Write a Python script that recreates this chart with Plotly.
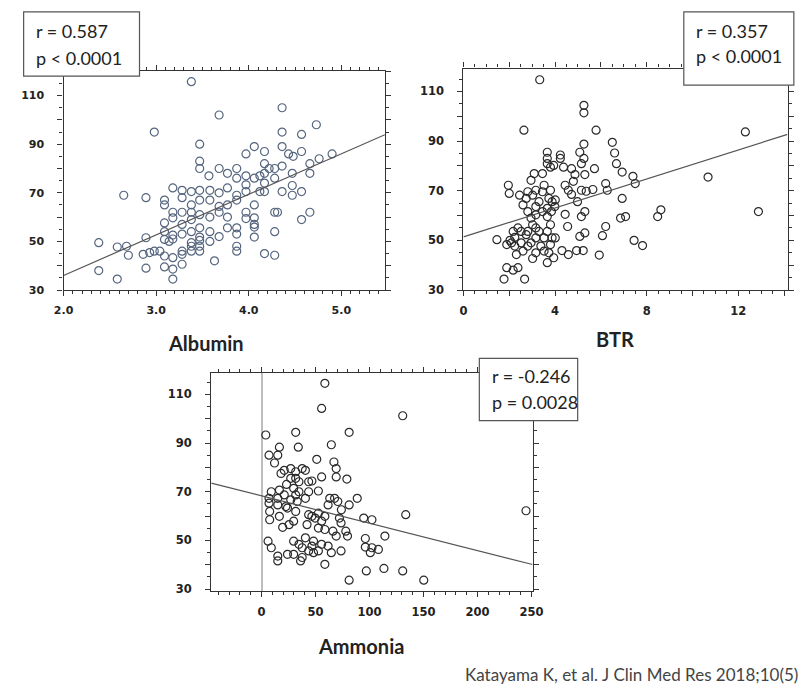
import plotly.graph_objects as go

W, H = 799, 689

# ---------------- Data ----------------
albumin_x = [3.38, 4.36, 3.68, 2.98, 4.36, 4.57, 4.73, 3.47, 3.97, 4.06,
             4.17, 4.36, 4.43, 4.48, 4.57, 4.90, 4.76, 4.66, 3.47, 3.47,
             3.68, 3.87, 4.17, 4.28, 4.36, 3.57, 3.77, 3.87, 3.97, 4.06,
             4.12, 4.17, 4.22, 4.28, 4.47, 4.66, 2.65, 2.89, 3.09, 3.18,
             3.28, 3.38, 3.47, 3.58, 3.68, 3.77, 3.87, 3.97, 4.12, 4.36,
             4.47, 4.57, 3.09, 3.28, 3.38, 3.47, 3.58, 3.68, 3.77, 3.87,
             4.06, 4.17, 3.18, 3.28, 3.38, 3.47, 3.58, 3.68, 3.77, 3.97,
             4.06, 4.28, 4.31, 4.66, 4.57, 3.09, 3.18, 3.38, 3.28, 3.47,
             3.77, 3.87, 3.97, 4.06, 4.06, 4.28, 3.09, 3.18, 3.28, 3.38,
             3.47, 3.58, 3.68, 3.87, 4.06, 2.89, 3.09, 3.14, 3.18, 3.38,
             3.47, 3.58, 2.38, 2.58, 2.68, 2.70, 2.86, 2.93, 2.98, 3.04,
             3.09, 3.18, 3.28, 3.38, 3.38, 3.47, 3.47, 3.87, 3.87, 4.17,
             4.28, 3.63, 3.09, 3.18, 3.28, 2.89, 2.38, 2.58, 3.18, 3.28,
             3.97, 4.17, 4.47]
albumin_y = [115.7, 105, 102, 95, 95, 94, 98, 90, 86, 89,
             87, 89, 86, 85, 87, 86, 84, 82, 83, 80,
             80, 80, 82, 80, 81, 77, 78, 76, 77, 76,
             77, 78, 80, 76, 78, 78, 69, 68, 67, 72,
             71, 70.5, 71, 71, 70, 72, 69, 70.5, 70.5, 70.5,
             69, 70.5, 65, 68, 65, 67, 67, 64.4, 65, 67,
             65, 70.5, 62, 62, 62, 61, 60, 62, 60, 62,
             59.7, 62, 62, 62, 59, 57.6, 59.7, 59, 57, 55.6,
             55.6, 55.6, 59.4, 57, 55.9, 54, 54, 52.6, 53, 54,
             51.8, 54, 52, 53, 51.8, 51.5, 50.8, 50, 51, 49.5,
             50.4, 50, 49.5, 47.7, 48, 44.3, 44.7, 45.4, 46, 46,
             44, 43.3, 44.7, 48, 46, 48, 46, 48, 46, 45,
             44.3, 42, 39.5, 38.6, 40.6, 39, 38, 34.5, 34.5, 46,
             73.3, 74, 73]

btr_x = [3.33, 5.26, 5.26, 2.64, 5.79, 12.31, 5.26, 6.50, 6.60, 3.66,
         3.66, 4.23, 4.23, 5.08, 5.26, 6.68, 3.66, 3.80, 3.94, 4.37,
         4.72, 5.72, 5.15, 3.09, 3.45, 4.87, 5.30, 6.93, 7.40, 7.50,
         10.68, 2.95, 4.80, 4.44, 4.58, 4.72, 1.96, 2.00, 2.45, 2.74,
         3.02, 3.45, 3.80, 3.30, 3.87, 4.01, 5.15, 5.36, 5.65, 6.21,
         6.28, 4.98, 6.93, 6.86, 7.08, 8.48, 8.62, 12.88, 5.30, 5.15,
         6.21, 6.07, 4.55, 4.44, 5.30, 5.08, 7.45, 7.82, 4.30, 4.58,
         4.94, 5.23, 5.93, 3.73, 3.94, 3.66, 1.46, 1.89, 2.03, 2.24,
         2.24, 2.31, 1.89, 2.17, 2.38, 1.77, 2.67, 2.81, 2.95, 3.16,
         3.02, 2.81, 3.16, 3.38, 2.95, 3.52, 3.02, 2.60, 2.52, 2.60,
         3.16, 3.66, 3.80, 3.66, 3.52, 3.87, 3.80, 4.01, 2.81, 3.16,
         3.52, 3.73, 3.99, 3.16, 3.45, 3.84, 3.66, 2.74, 3.30, 2.38,
         2.17, 2.10, 2.52, 2.81, 3.16]
btr_y = [114.7, 104.4, 101.4, 94.4, 94.4, 93.7, 88.8, 89.5, 85.2, 85.5,
         83, 84.4, 83, 85.5, 83, 80.9, 80.9, 79.5, 80.2, 79.5,
         78.9, 78.9, 80.9, 76.9, 76.9, 76.5, 76.5, 77.5, 75.8, 72.9,
         75.5, 74.2, 73.8, 72.2, 70.2, 68.5, 72.2, 68.9, 68.2, 66.9,
         68.2, 69.6, 70.2, 65.6, 65.6, 66.3, 70.2, 69.8, 70.5, 72.9,
         70.2, 65.6, 66.9, 59, 59.6, 59.6, 62.3, 61.6, 61.6, 59.6,
         55.6, 51.9, 55.6, 60.5, 53, 51.6, 50, 47.9, 45.9, 44.3,
         45.9, 45.9, 44.1, 45, 43, 41, 50.3, 48.3, 50, 51.2,
         47.7, 44.3, 39, 38, 39, 34.4, 34.4, 61.6, 59, 60.3,
         56.3, 53.6, 51, 47.7, 49, 45.7, 42.7, 45.7, 53.6, 64.3,
         55, 59.6, 56.3, 53.6, 51, 51, 48.3, 51, 69.6, 70.2,
         72.2, 66.9, 63.6, 63.6, 61.6, 61.6, 62.9, 52.3, 53.6, 55,
         53.6, 49, 49, 47.7, 45]

ammonia_x = [58.6, 55.6, 130.7, 3.9, 31.6, 81.1, 34.0, 64.6, 16.5, 15.0,
             6.9, 12.0, 51.1, 67.0, 69.1, 69.1, 79.0, 55.6, 46.6, 27.0,
             31.6, 37.6, 40.6, 21.0, 18.0, 27.0, 31.6, 34.6, 23.1, 29.7,
             34.6, 43.6, 52.6, 9.0, 6.9, 15.0, 21.0, 27.0, 31.6, 16.5,
             6.9, 15.0, 22.5, 31.6, 43.6, 49.6, 52.6, 58.6, 63.1, 67.6,
             70.6, 88.6, 81.1, 73.9, 72.1, 73.6, 61.6, 94.6, 102.2, 133.5,
             244.9, 7.5, 16.5, 19.5, 25.5, 29.7, 42.1, 52.6, 58.6, 66.1,
             69.1, 78.0, 79.6, 6.0, 9.0, 15.0, 15.0, 24.0, 29.7, 34.6,
             37.6, 43.6, 48.1, 52.6, 55.6, 61.6, 29.7, 37.6, 36.1, 40.6,
             48.1, 46.6, 64.6, 73.6, 58.6, 96.1, 96.1, 102.2, 108.2, 100.7,
             114.2, 81.1, 97.0, 113.3, 130.7, 150.2, 33.0, 43.6, 40.6, 24.0,
             46.6, 55.6, 7.5]
ammonia_y = [114.5, 104.2, 101.2, 93.3, 94.4, 94.4, 88.3, 89.3, 88.3, 85,
             85, 81.8, 83.3, 82.2, 79.5, 76.1, 75.2, 76.1, 74.4, 79.5,
             78.2, 79.5, 78.8, 78.8, 77.5, 75.5, 75.5, 74.1, 73, 71.4,
             70, 70, 70.3, 70, 67.3, 67.3, 68.7, 66.7, 68.7, 70.7,
             65.3, 64.6, 63.9, 61.9, 60.6, 59.2, 61.2, 59.9, 67.3, 67.3,
             66, 67.3, 64.6, 62.6, 59.2, 57.2, 64.6, 59.2, 58.5, 60.6,
             62.2, 58.5, 59.9, 55.4, 56.5, 57.9, 56.5, 55.1, 54.5, 53.8,
             51.8, 53.8, 51.8, 49.7, 47, 43.6, 41.6, 44.3, 49.7, 48.4,
             47, 45.7, 45, 45.7, 48.4, 47.7, 44.3, 43, 41.6, 51.1,
             49.7, 47.7, 45, 45.7, 40.2, 50.8, 47.3, 47, 46.3, 45,
             51.8, 33.7, 37.5, 38.5, 37.5, 33.7, 66, 74.1, 67.3, 63.3,
             59.9, 57.9, 61.9]

# regression lines: [intercept, slope]
albumin_fit = [2.6, 16.69]
btr_fit = [51.4, 2.92]
ammonia_fit = [68.3, -0.1123]

stats_text = {
    "albumin": ["r = 0.587", "p < 0.0001"],
    "btr": ["r = 0.357", "p < 0.0001"],
    "ammonia": ["r = -0.246", "p = 0.0028"],
}
axis_titles = ["Albumin", "BTR", "Ammonia"]
citation = "Katayama K, et al. J Clin Med Res 2018;10(5)"

y_tick_vals = [30, 40, 50, 60, 70, 80, 90, 100, 110, 120]
y_tick_text = ["30", "", "50", "", "70", "", "90", "", "110", ""]
alb_tick_vals = [2.0, 3.0, 4.0, 5.0]
alb_tick_text = ["2.0", "3.0", "4.0", "5.0"]
btr_tick_vals = [0, 2, 4, 6, 8, 10, 12, 14]
btr_tick_text = ["0", "", "4", "", "8", "", "12", ""]
amm_tick_vals = [0, 50, 100, 150, 200, 250]
amm_tick_text = ["0", "50", "100", "150", "200", "250"]

# ---------------- Layout helpers ----------------
def px_x(p):
    return p / W

def px_y(p):
    return 1 - p / H

AX_COL = "#333333"

def ax_common(size):
    return dict(showline=True, linecolor=AX_COL, linewidth=1.4, mirror="ticks",
                ticks="outside", ticklen=5, tickwidth=1, tickcolor=AX_COL,
                showgrid=False, zeroline=False,
                tickfont=dict(family="DejaVu Sans", size=size, color="#222222", weight="bold"))

fig = go.Figure()

panels = [
    dict(x=albumin_x, y=albumin_y, fit=albumin_fit, xr=[2.0, 5.47], yr=[30, 120],
         dom_x=[55, 385], dom_y=[72, 293], color="#56667f", size=11,
         tv=alb_tick_vals, tt=alb_tick_text, minor_dx=0.1),
    dict(x=btr_x, y=btr_y, fit=btr_fit, xr=[0, 14.15], yr=[30, 119.2],
         dom_x=[465.7, 798.5], dom_y=[69.3, 293], color="#2a2a2a", size=11.5,
         tv=btr_tick_vals, tt=btr_tick_text, minor_dx=0.5),
    dict(x=ammonia_x, y=ammonia_y, fit=ammonia_fit, xr=[-46.6, 251], yr=[29.4, 118.8],
         dom_x=[206.7, 536.7], dom_y=[376.7, 596.7], color="#2a2a2a", size=11.5,
         tv=amm_tick_vals, tt=amm_tick_text, minor_dx=10),
]

for i, p in enumerate(panels):
    n = "" if i == 0 else str(i + 1)
    xa, ya = "x" + n, "y" + n
    fig.add_trace(go.Scatter(
        x=p["x"], y=p["y"], mode="markers", xaxis=xa, yaxis=ya,
        marker=dict(symbol="circle-open", size=8, color=p["color"], line=dict(width=1.2)),
        showlegend=False, hoverinfo="skip"))
    x0, x1 = p["xr"]
    b, m = p["fit"]
    fig.add_trace(go.Scatter(
        x=[x0, x1], y=[b + m * x0, b + m * x1], mode="lines", xaxis=xa, yaxis=ya,
        line=dict(color="#555555", width=1.2), showlegend=False, hoverinfo="skip"))

    xax = ax_common(p["size"])
    xax.update(domain=[px_x(p["dom_x"][0]), px_x(p["dom_x"][1])], range=p["xr"],
               anchor=ya, tickmode="array", tickvals=p["tv"], ticktext=p["tt"],
               ticklabelstandoff=5,
               minor=dict(ticks="outside", ticklen=3, dtick=p["minor_dx"], tick0=0,
                          tickcolor=AX_COL, showgrid=False))
    if i == 2:
        xax.update(zeroline=True, zerolinecolor="#bdbdbd", zerolinewidth=1.5)
    yax = ax_common(p["size"])
    yax.update(domain=[px_y(p["dom_y"][1]), px_y(p["dom_y"][0])], range=p["yr"],
               anchor=xa, tickmode="array", tickvals=y_tick_vals, ticktext=y_tick_text,
               ticklabelstandoff=11,
               minor=dict(ticks="outside", ticklen=3, dtick=5, tick0=0,
                          tickcolor=AX_COL, showgrid=False))
    fig.update_layout(**{("xaxis" + n): xax, ("yaxis" + n): yax})

# stats boxes
boxes = [
    dict(key="albumin", x0=14, y0=12, x1=133, y1=77, tx=25, ty=[31.7, 58.3]),
    dict(key="btr", x0=692, y0=12, x1=805, y1=86, tx=702, ty=[31.7, 57]),
    dict(key="ammonia", x0=482, y0=362, x1=583, y1=425, tx=493, ty=[380, 406]),
]
for bx in boxes:
    fig.add_shape(type="rect", xref="paper", yref="paper", layer="above",
                  x0=px_x(bx["x0"]), x1=px_x(bx["x1"]), y0=px_y(bx["y1"]), y1=px_y(bx["y0"]),
                  line=dict(color="#555555", width=1.2), fillcolor="white")
    for line_txt, ty in zip(stats_text[bx["key"]], bx["ty"]):
        fig.add_annotation(xref="paper", yref="paper", x=px_x(bx["tx"]), y=px_y(ty),
                           xanchor="left", yanchor="middle", showarrow=False, text=line_txt,
                           font=dict(family="Lato", size=18, color="#222222"))

# axis titles
title_pos = [(201, 347), (621, 342), (360, 653)]
for t, (tx, ty) in zip(axis_titles, title_pos):
    fig.add_annotation(xref="paper", yref="paper", x=px_x(tx), y=px_y(ty),
                       xanchor="center", yanchor="middle", showarrow=False, text=t,
                       font=dict(family="Lato", size=20, color="#222222", weight="bold"))

fig.add_annotation(xref="paper", yref="paper", x=1.0, y=px_y(681), xshift=12,
                   xanchor="right", yanchor="middle", showarrow=False, text=citation,
                   font=dict(family="Lato", size=17, color="#444444"))

fig.update_layout(width=W, height=H, margin=dict(l=0, r=0, t=0, b=0),
                  paper_bgcolor="white", plot_bgcolor="white")

fig.write_html("out.html", config={"displayModeBar": False},
               post_script="document.body.style.margin='0px';document.body.style.overflow='hidden';")
